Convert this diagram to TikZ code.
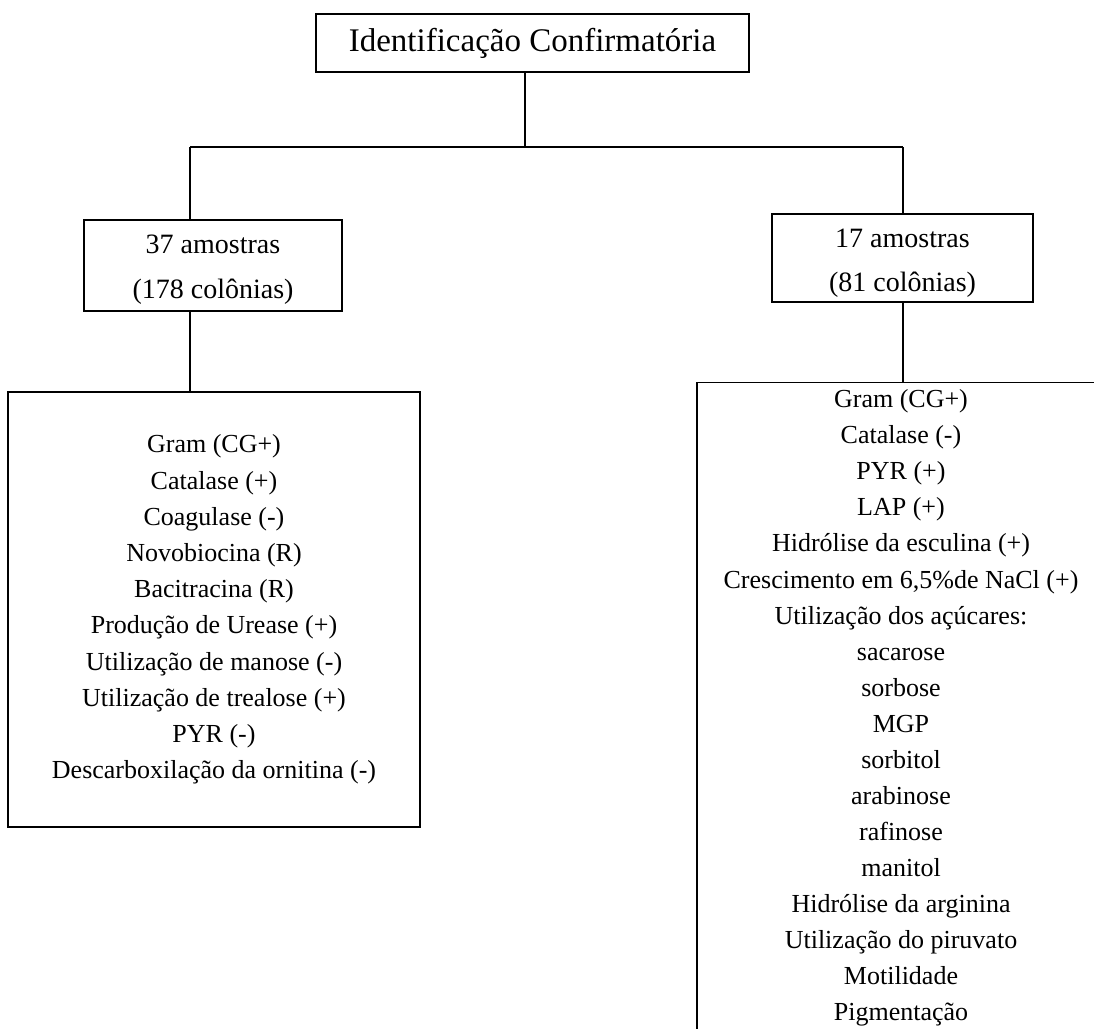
\documentclass[tikz,border=0pt]{standalone}
\usepackage{fontspec}
\setmainfont{Liberation Serif}
\begin{document}
\begin{tikzpicture}[x=1pt,y=-1pt,
  box/.style={draw=black, line width=1.4pt, align=center, inner sep=0pt, text=black},
  titlefont/.style={font=\fontsize{33}{40}\selectfont},
  midfont/.style={font=\fontsize{28}{45}\selectfont},
  listfont/.style={font=\fontsize{26}{36.2}\selectfont},
  link/.style={draw=black, line width=1.4pt}]
\useasboundingbox (0,0) rectangle (1094,1028);
\clip (0,0) rectangle (1094,1028);
\fill[white] (0,0) rectangle (1094,1028);

\node[box, titlefont, minimum width=433pt, minimum height=58pt] (top) at (532.5,43) {Identificação Confirmatória};

\node[box, midfont, minimum width=258pt, minimum height=91pt] (lmid) at (213,265.5) {\rule{0pt}{27pt}37 amostras\\(178 colônias)};
\node[box, midfont, font=\fontsize{28}{44}\selectfont, minimum width=261pt, minimum height=88pt] (rmid) at (902.5,258) {\rule{0pt}{29pt}17 amostras\\(81 colônias)};

\node[box, listfont, minimum width=412pt, minimum height=435pt] (lbox) at (214,609.5) {Gram (CG+)\\Catalase (+)\\Coagulase (-)\\Novobiocina (R)\\Bacitracina (R)\\Produção de Urease (+)\\Utilização de manose (-)\\Utilização de trealose (+)\\PYR (-)\\Descarboxilação da ornitina (-)};

\node[box, font=\fontsize{26}{36.06}\selectfont, minimum width=408pt, inner ysep=7pt, inner xsep=0pt, anchor=north] (rbox) at (901,382) {Gram (CG+)\\Catalase (-)\\PYR (+)\\LAP (+)\\Hidrólise da esculina (+)\\Crescimento em 6,5\%de NaCl (+)\\Utilização dos açúcares:\\sacarose\\sorbose\\MGP\\sorbitol\\arabinose\\rafinose\\manitol\\Hidrólise da arginina\\Utilização do piruvato\\Motilidade\\Pigmentação\\ \\ };

\coordinate (junc) at (525,147);
\coordinate (hl) at (190,147);
\coordinate (hr) at (903,147);

\draw[link] (top.south -| junc) -- (junc);
\draw[link] (hl) -- (hr);
\draw[link] (hl) -- (lmid.north -| hl);
\draw[link] (hr) -- (rmid.north -| hr);
\draw[link] (lmid.south -| hl) -- (lbox.north -| hl);
\draw[link] (rmid.south -| hr) -- (rbox.north -| hr);
\end{tikzpicture}
\end{document}
